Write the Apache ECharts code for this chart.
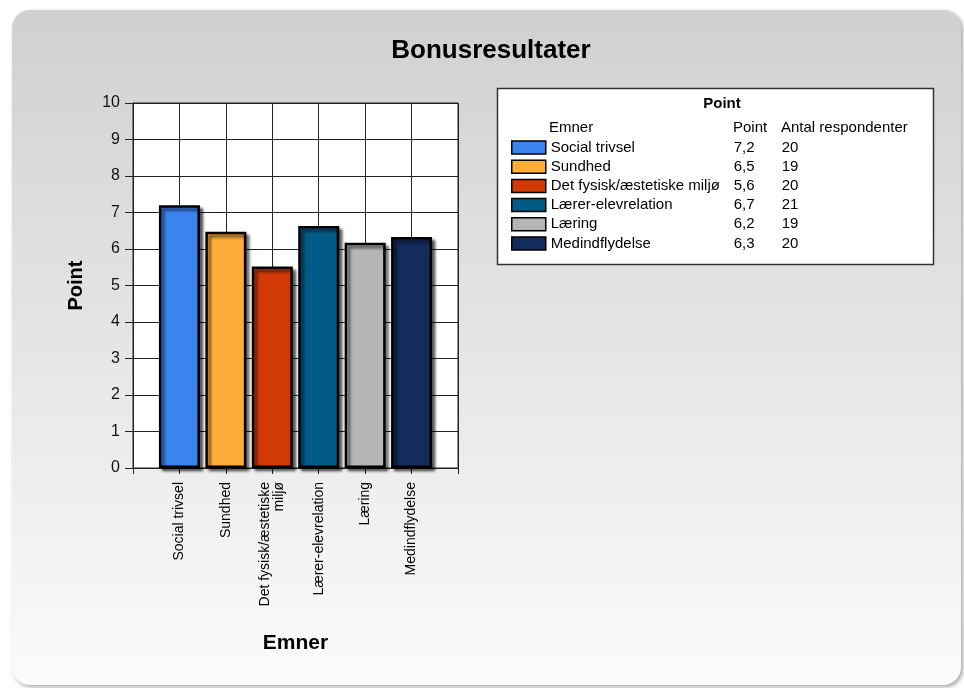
<!DOCTYPE html>
<html>
<head>
<meta charset="utf-8">
<script src="https://cdn.jsdelivr.net/npm/echarts@6/dist/echarts.min.js"></script>
<style>
  html, body { margin: 0; padding: 0; background: #fff; }
  #chart { width: 964px; height: 688px; }
</style>
</head>
<body>
<div id="chart"></div>
<script>
// data
var categories = ['Social trivsel', 'Sundhed', 'Det fysisk/æstetiske miljø', 'Lærer-elevrelation', 'Læring', 'Medindflydelse'];
var axisLabels = ['Social trivsel', 'Sundhed', 'Det fysisk/æstetiske\nmiljø', 'Lærer-elevrelation', 'Læring', 'Medindflydelse'];
var points = [7.2, 6.47, 5.52, 6.63, 6.17, 6.33];
var pointLabels = ['7,2', '6,5', '5,6', '6,7', '6,2', '6,3'];
var respondents = [20, 19, 20, 21, 19, 20];
var colors = ['#3b84f0', '#fdad38', '#d13a05', '#025a87', '#b5b5b5', '#132c5c'];
var yTicks = [0, 10, 1];

var font = 'Arial, "Liberation Sans", sans-serif';

// padded category axis so bars sit on interior points
var xData = [''].concat(axisLabels, ['']);

var series = categories.map(function (name, i) {
  var d = xData.map(function () { return null; });
  d[i + 1] = points[i];
  return {
    name: name,
    type: 'bar',
    stack: 'all',
    barWidth: 41,
    data: d,
    itemStyle: {
      color: colors[i],
      borderColor: '#000',
      borderWidth: 2.5,
      shadowColor: 'rgba(0,0,0,0.6)',
      shadowBlur: 3,
      shadowOffsetX: 3,
      shadowOffsetY: 3
    }
  };
});

var chart = echarts.init(document.getElementById('chart'));
chart.setOption({
  animation: false,
  textStyle: { fontFamily: font },
  graphic: [
    {
      type: 'rect', z: -10,
      shape: { x: 12, y: 10, width: 949, height: 675, r: 18 },
      style: {
        fill: new echarts.graphic.LinearGradient(0, 0, 0, 1, [
          { offset: 0, color: '#d0d0d0' },
          { offset: 1, color: '#fbfbfb' }
        ]),
        shadowColor: 'rgba(0,0,0,0.35)',
        shadowBlur: 4,
        shadowOffsetX: 2,
        shadowOffsetY: 2
      }
    },
    {
      type: 'text', x: 491, y: 51,
      style: { text: 'Bonusresultater', font: 'bold 26px ' + font, fill: '#000', align: 'center', verticalAlign: 'middle' }
    },
    {
      type: 'rect', z: 1,
      shape: { x: 497.5, y: 88.5, width: 436, height: 176 },
      style: { fill: '#fff', stroke: '#333', lineWidth: 1.5 }
    },
    {
      type: 'text', z: 2, x: 722, y: 104,
      style: { text: 'Point', font: 'bold 15px ' + font, fill: '#000', align: 'center', verticalAlign: 'middle' }
    },
    {
      type: 'text', z: 2, x: 549, y: 128,
      style: { text: 'Emner', font: '15px ' + font, fill: '#000', verticalAlign: 'middle' }
    },
    {
      type: 'text', z: 2, x: 733, y: 128,
      style: { text: 'Point', font: '15px ' + font, fill: '#000', verticalAlign: 'middle' }
    },
    {
      type: 'text', z: 2, x: 781, y: 128,
      style: { text: 'Antal respondenter', font: '15px ' + font, fill: '#000', verticalAlign: 'middle' }
    }
  ],
  legend: {
    orient: 'vertical',
    left: 511,
    top: 140,
    z: 5,
    padding: 0,
    itemWidth: 34,
    itemHeight: 13,
    itemGap: 4.2,
    icon: 'rect',
    selectedMode: false,
    itemStyle: { borderColor: '#000', borderWidth: 1.5, shadowBlur: 0, shadowOffsetX: 0, shadowOffsetY: 0 },
    data: categories,
    formatter: function (name) {
      var i = categories.indexOf(name);
      return '{a|' + name + '}{b|' + pointLabels[i] + '}{c|' + respondents[i] + '}';
    },
    textStyle: {
      fontFamily: font,
      fontSize: 15,
      color: '#000',
      rich: {
        a: { width: 183, fontSize: 15, color: '#000', fontFamily: font },
        b: { width: 48, fontSize: 15, color: '#000', fontFamily: font },
        c: { fontSize: 15, color: '#000', fontFamily: font }
      }
    }
  },
  grid: {
    left: 133, right: 506, top: 103, bottom: 220,
    show: true, backgroundColor: '#fff', borderColor: '#222', borderWidth: 1
  },
  xAxis: {
    type: 'category',
    data: xData,
    boundaryGap: false,
    name: 'Emner',
    nameLocation: 'middle',
    nameGap: 165,
    nameTextStyle: { fontSize: 21, fontWeight: 'bold', color: '#000', fontFamily: font },
    axisLine: { lineStyle: { color: '#222', width: 1 } },
    axisTick: { show: true, length: 6, interval: 0, lineStyle: { color: '#222' } },
    splitLine: { show: true, interval: 0, lineStyle: { color: '#222', width: 1 } },
    axisLabel: {
      interval: 0, rotate: 90, margin: 14,
      fontSize: 14, color: '#000', fontFamily: font, lineHeight: 14
    }
  },
  yAxis: {
    type: 'value',
    min: yTicks[0], max: yTicks[1], interval: yTicks[2],
    name: 'Point',
    nameLocation: 'middle',
    nameGap: 47,
    nameTextStyle: { fontSize: 20, fontWeight: 'bold', color: '#000', fontFamily: font },
    axisLine: { show: true, lineStyle: { color: '#222', width: 1 } },
    axisTick: { show: true, length: 8, lineStyle: { color: '#222' } },
    splitLine: { show: true, lineStyle: { color: '#222', width: 1 } },
    axisLabel: { fontSize: 16, color: '#111', margin: 13, fontFamily: font }
  },
  series: series
});
</script>
</body>
</html>
